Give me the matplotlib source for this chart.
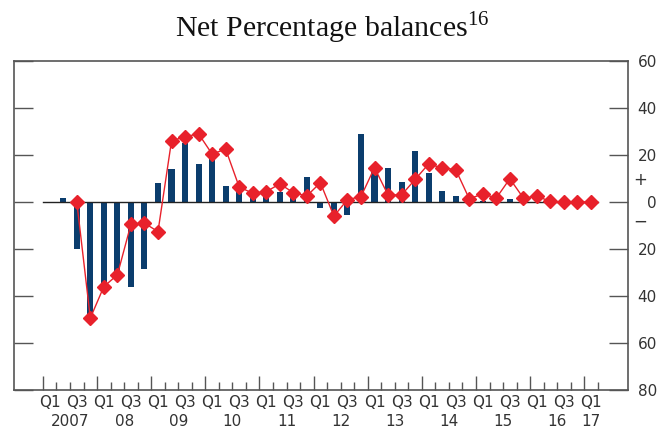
import numpy as np
import matplotlib
matplotlib.use("Agg")
import matplotlib.pyplot as plt
from matplotlib.transforms import blended_transform_factory

plt.rcParams['mathtext.fontset'] = 'custom'
plt.rcParams['mathtext.rm'] = 'Liberation Serif'

# Quarters from 2007 Q1 (index 0) to 2017 Q1 (index 40)
quarter_index = list(range(41))
bar_values = [np.nan, 1.5, -20, -51, -35, -31, -36, -28.5, 8, 14,
              25, 16, 19, 7, 5, 2, 3, 4.1, 2, 10.8,
              -2.7, -4, -5.5, 29, 13, 14.3, 8.4, 21.8, 12.5, 4.7,
              2.6, 0, 0.3, 0, 1.3, 0, 0, 0, 0, 0, 0]
line_values = [np.nan, np.nan, 0, -49.4, -36, -31, -9.5, -9, -12.6, 26,
               27.8, 29, 20.4, 22.5, 6.4, 3.7, 4.4, 7.7, 4, 2.6,
               8.2, -6, 1, 2.3, 14.6, 3, 3, 9.6, 16.2, 14.5,
               13.8, 1.4, 3.4, 1.7, 9.9, 1.7, 2.4, 0.3, 0, 0, 0]
years = ['2007', '08', '09', '10', '11', '12', '13', '14', '15', '16', '17']
ytick_values = [60, 40, 20, 0, -20, -40, -60, -80]
ytick_labels = ['60', '40', '20', '0', '20', '40', '60', '80']

BAR_COLOR = '#0b3d6d'
RED = '#e8212b'
GREY = '#555555'
TXT = '#333333'

fig = plt.figure(figsize=(6.58, 4.28), dpi=100)
ax = fig.add_axes([14/658, 1-390/428, (627.7-14)/658, (390-61)/428])

x = np.array(quarter_index, dtype=float)
ax.bar(x, bar_values, width=0.45, color=BAR_COLOR, zorder=2)
ax.plot([-0.5, 40.5], [0, 0], color='#222222', lw=1.0, zorder=3)
ax.plot(x, line_values, color=RED, lw=1.0, marker='D', ms=7.5,
        markerfacecolor=RED, markeredgecolor=RED, zorder=4)

ax.set_xlim(-2.64, 42.71)
ax.set_ylim(-80, 60)

for s in ax.spines.values():
    s.set_color(GREY)
    s.set_linewidth(1.2)

# x ticks at quarter boundaries
major = [4*k - 0.5 for k in range(11)]
minor = [i - 0.5 for i in range(42) if i % 4 != 0]
ax.set_xticks(major)
ax.set_xticks(minor, minor=True)
ax.set_xticklabels([])
ax.tick_params(axis='x', which='major', direction='in', length=10, width=1.0, color=GREY)
ax.tick_params(axis='x', which='minor', direction='in', length=5.5, width=1.0, color=GREY)

ax.set_yticks(ytick_values)
ax.set_yticklabels(ytick_labels)
ax.tick_params(axis='y', direction='in', length=13.5, width=1.0, color=GREY,
               left=True, right=True, labelleft=False, labelright=True,
               labelsize=11, labelcolor=TXT, pad=21)
for lab in ax.get_yticklabels():
    lab.set_horizontalalignment('right')

tr = blended_transform_factory(ax.transData, ax.transAxes)
for i in quarter_index:
    if i % 4 == 0:
        ax.text(i, -0.037, 'Q1', transform=tr, ha='center', va='center', fontsize=11, color=TXT)
    elif i % 4 == 2:
        ax.text(i, -0.037, 'Q3', transform=tr, ha='center', va='center', fontsize=11, color=TXT)
for k, yl in enumerate(years):
    xpos = 4*k + 1.5 if k < 10 else 40
    ax.text(xpos, -0.097, yl, transform=tr, ha='center', va='center', fontsize=11, color=TXT)

tr2 = blended_transform_factory(ax.transAxes, ax.transData)
ax.text(1.02, 9.5, '+', transform=tr2, ha='center', va='center', fontsize=12, color=TXT)
ax.text(1.02, -8.5, '\u2212', transform=tr2, ha='center', va='center', fontsize=12, color=TXT)

fig.text(332/658, 1-28/428, r'Net Percentage balances$^{\mathrm{16}}$',
         ha='center', va='center', fontsize=21.5, family='Liberation Serif', color='#111111')

fig.savefig('out.png', dpi=100)
